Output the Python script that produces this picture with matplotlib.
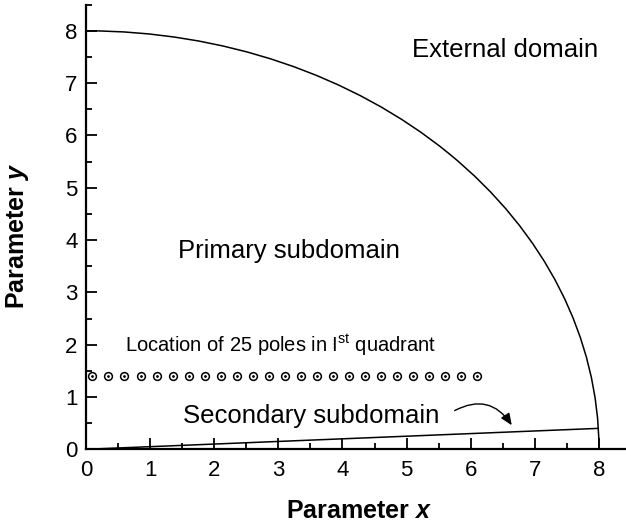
import matplotlib
matplotlib.use("Agg")
import matplotlib.pyplot as plt
from matplotlib.patches import Arc

plt.rcParams['font.family'] = ['Liberation Sans', 'DejaVu Sans']
plt.rcParams['mathtext.fontset'] = 'custom'
plt.rcParams['mathtext.rm'] = 'Liberation Sans'
plt.rcParams['mathtext.bf'] = 'Liberation Sans:bold'
plt.rcParams['mathtext.it'] = 'Liberation Sans:italic'
plt.rcParams['mathtext.bfit'] = 'Liberation Sans:bold:italic'

# Data
arc_radius = 8.0
line_x = [0.0, 7.99]
line_y = [0.0, 0.40]
pole_x = [0.10, 0.35, 0.60, 0.85, 1.10, 1.35, 1.60, 1.85, 2.10, 2.35,
          2.60, 2.85, 3.10, 3.35, 3.60, 3.85, 4.10, 4.35, 4.60, 4.85,
          5.10, 5.35, 5.60, 5.85, 6.10]
pole_y = [1.40] * 25
x_ticks = [0, 1, 2, 3, 4, 5, 6, 7, 8]
y_ticks = [0, 1, 2, 3, 4, 5, 6, 7, 8]

fig = plt.figure(figsize=(6.26, 5.25), dpi=100)
ax = fig.add_axes([0.1374, 0.1442, 0.8706, 0.8469])
ax.set_xlim(0, 8.5)
ax.set_ylim(0, 8.5)

ax.add_patch(Arc((0, 0), 2 * arc_radius, 2 * arc_radius, theta1=0, theta2=90,
                 color='black', lw=1.1))
ax.plot(line_x, line_y, color='black', lw=1.1)
ax.plot(pole_x, pole_y, linestyle='none', marker='o', ms=5.6,
        mfc='none', mec='black', mew=1.1)
ax.plot(pole_x, pole_y, linestyle='none', marker='o', ms=1.4,
        mfc='black', mec='black', mew=0.5)

ax.text(5.08, 7.50, 'External domain', fontsize=18.5, ha='left', va='baseline')
ax.text(1.44, 3.66, 'Primary subdomain', fontsize=18.5, ha='left', va='baseline')
ax.text(0.61, 1.855, r'Location of 25 poles in I$^{\mathrm{st}}$ quadrant',
        fontsize=14.5, ha='left', va='baseline')
ax.text(1.51, 0.50, 'Secondary subdomain', fontsize=18.5, ha='left', va='baseline')

ax.annotate('', xy=(6.64, 0.46), xytext=(5.75, 0.74),
            arrowprops=dict(arrowstyle='-|>,head_length=0.7,head_width=0.3',
                            connectionstyle='arc3,rad=-0.45',
                            color='black', lw=1.0, shrinkA=0, shrinkB=0))

ax.set_xticks(x_ticks)
ax.set_yticks(y_ticks)
ax.set_xticks([0.5 + i for i in range(8)], minor=True)
ax.set_yticks([0.5 + i for i in range(9)], minor=True)
ax.tick_params(which='major', direction='in', length=8, width=1.3,
               labelsize=16, pad=6)
ax.tick_params(which='minor', direction='in', length=4.5, width=1.3)
ax.tick_params(axis='x', pad=8)

for s in ['top', 'right']:
    ax.spines[s].set_visible(False)
for s in ['left', 'bottom']:
    ax.spines[s].set_linewidth(1.6)

ax.set_xlabel(r'Parameter $\mathbfit{x}$', fontsize=18, fontweight='bold')
ax.set_ylabel(r'Parameter $\mathbfit{y}$', fontsize=18, fontweight='bold')
ax.xaxis.set_label_coords(0.5, -0.112)
ax.yaxis.set_label_coords(-0.101, 0.479)

fig.savefig('out.png', dpi=100)
